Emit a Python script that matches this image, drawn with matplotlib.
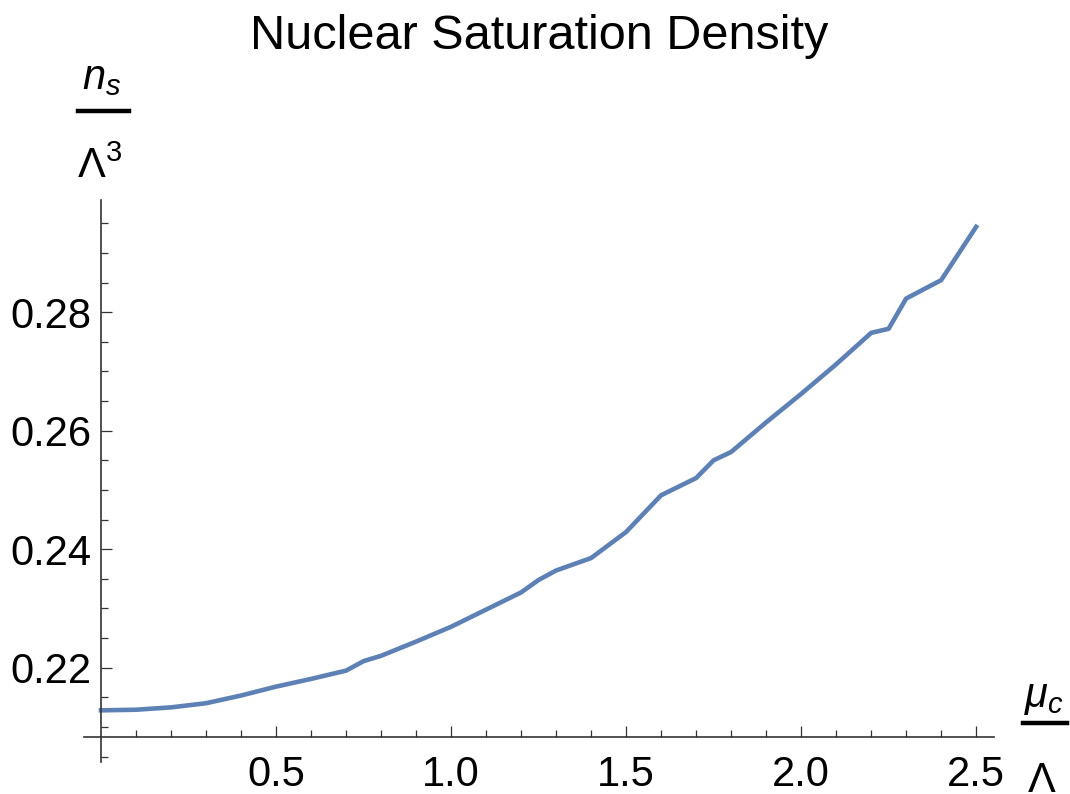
import numpy as np
import matplotlib
matplotlib.use("Agg")
from matplotlib import pyplot as plt
from matplotlib.ticker import FixedLocator, FormatStrFormatter
from matplotlib.lines import Line2D

plt.rcParams['font.family'] = ['Liberation Sans', 'DejaVu Sans']
plt.rcParams['mathtext.fontset'] = 'custom'
plt.rcParams['mathtext.rm'] = 'Liberation Sans'
plt.rcParams['mathtext.it'] = 'Liberation Sans:italic'

# values
mu_c = [0.0, 0.1, 0.2, 0.3, 0.4, 0.5, 0.6, 0.7, 0.75, 0.8, 0.9, 1.0, 1.1, 1.2,
        1.25, 1.3, 1.4, 1.5, 1.6, 1.7, 1.75, 1.8, 1.9, 2.0, 2.1, 2.2, 2.25,
        2.3, 2.4, 2.5]
n_s = [0.2128, 0.2129, 0.2133, 0.2140, 0.2153, 0.2168, 0.2181, 0.2195,
       0.2211, 0.2220, 0.2244, 0.2269, 0.2298, 0.2327, 0.2348, 0.2364,
       0.2385, 0.2429, 0.2491, 0.2520, 0.2550, 0.2564, 0.2614, 0.2662,
       0.2712, 0.2765, 0.2772, 0.2823, 0.2854, 0.2944]
x_major = [0.5, 1.0, 1.5, 2.0, 2.5]
y_major = [0.22, 0.24, 0.26, 0.28]
y_origin = 0.20825

fig = plt.figure(figsize=(10.7, 7.94), dpi=100)
ax = fig.add_axes([84 / 1070, 32 / 794, 910 / 1070, 562 / 794])

ax.plot(mu_c, n_s, color='#5E81B5', lw=3.3)

ax.set_xlim(-0.0486, 2.551)
ax.set_ylim(0.20408, 0.29893)

for s in ['top', 'right']:
    ax.spines[s].set_visible(False)
ax.spines['left'].set_position(('data', 0))
ax.spines['bottom'].set_position(('data', y_origin))
for s in ['left', 'bottom']:
    ax.spines[s].set_linewidth(1.2)
    ax.spines[s].set_color('#333333')

ax.xaxis.set_major_locator(FixedLocator(x_major))
ax.xaxis.set_minor_locator(FixedLocator(
    [v for v in np.round(np.arange(0.1, 2.51, 0.1), 2) if v not in x_major]))
ax.yaxis.set_major_locator(FixedLocator(y_major))
ax.yaxis.set_minor_locator(FixedLocator(
    [v for v in np.round(np.arange(0.205, 0.2960, 0.005), 3) if v not in y_major]))
ax.xaxis.set_major_formatter(FormatStrFormatter('%.1f'))
ax.yaxis.set_major_formatter(FormatStrFormatter('%.2f'))

ax.tick_params(which='both', direction='in', color='#333333', width=0.9,
               labelsize=30)
ax.tick_params(which='major', length=8)
ax.tick_params(which='minor', length=5)
ax.tick_params(axis='x', pad=13)
ax.tick_params(axis='y', pad=7)

fig.text(539 / 1070, 1 - 49 / 794, 'Nuclear Saturation Density', fontsize=35,
         ha='center', va='baseline')

# y label as a fraction
fig.text(102 / 1070, 1 - 89 / 794, r'$n_s$', fontsize=30, ha='center',
         va='baseline')
fig.add_artist(Line2D([78 / 1070, 129 / 1070], [1 - 111 / 794, 1 - 111 / 794],
                      color='black', lw=3.2))
fig.text(100 / 1070, 1 - 178 / 794, r'$\Lambda^3$', fontsize=30, ha='center',
         va='baseline')

# x label as a fraction
fig.text(1044 / 1070, 1 - 707 / 794, r'$\mu_c$', fontsize=30, ha='center',
         va='baseline')
fig.add_artist(Line2D([1023 / 1070, 1067 / 1070], [1 - 723 / 794, 1 - 723 / 794],
                      color='black', lw=3.2))
fig.text(1042 / 1070, 1 - 792 / 794, r'$\Lambda$', fontsize=30, ha='center',
         va='baseline')

fig.savefig('out.png', dpi=100)
